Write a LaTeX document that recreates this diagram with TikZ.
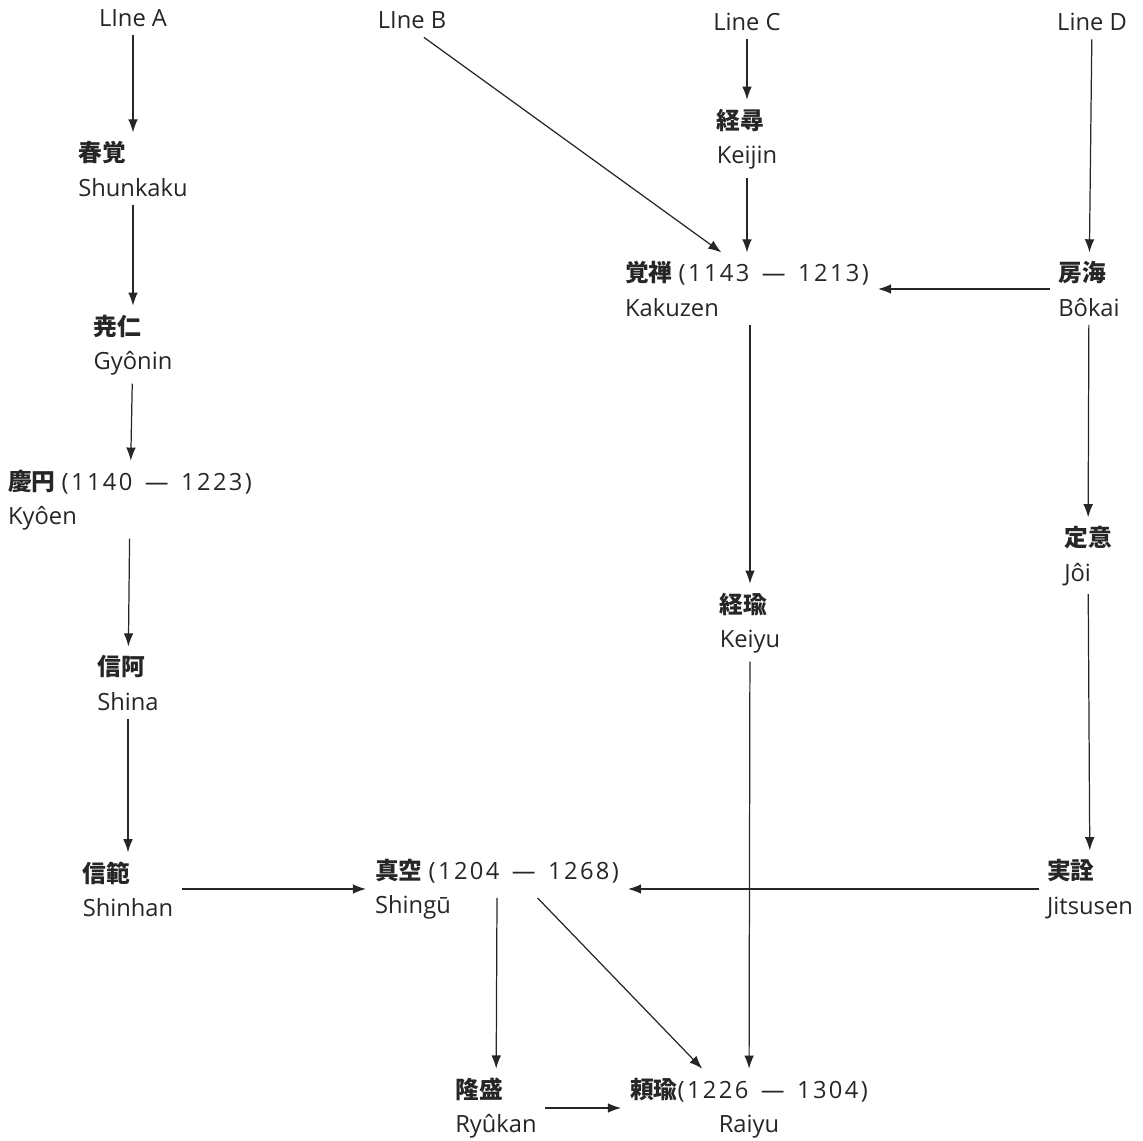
\documentclass[tikz,border=0pt]{standalone}
\usepackage{fontspec}
\setmainfont{Open Sans}
\newfontfamily\cjk{Noto Sans CJK JP}
\newfontfamily\yearfont[LetterSpace=10]{Open Sans}
\newcommand{\kj}[1]{{\cjk\bfseries #1}}
\newcommand{\years}[2]{{\yearfont(#1 \,—\, #2)}}
\usepackage{tikz}
\usetikzlibrary{arrows.meta,positioning}

\begin{document}
\begin{tikzpicture}[
      x=0.02cm, y=-0.02cm,
      line cap=rect, line join=round, >={Latex[length=7.5pt,width=5.5pt]},
      font=\fontsize{13.5}{19.5}\selectfont,
      monk/.style={align=left, inner sep=5pt, text=black!85},
      linelabel/.style={inner sep=5pt, text=black!85},
      lineage/.style={->, line width=0.7pt, draw=black!85}
    ]

    % ------------------ Page ------------------
    \useasboundingbox (0,0) rectangle (1143,1141);

    % ------------------ Line heads ------------------
    \node[linelabel] (lineA) at (133,18) {LIne A};
    \node[linelabel] (lineB) at (412,20) {LIne B};
    \node[linelabel] (lineC) at (747,22) {Line C};
    \node[linelabel] (lineD) at (1092,22) {Line D};

    % ------------------ Line A ------------------
    \node[monk] (shunkaku) at (133,169) {\kj{春覚}\\Shunkaku};
    \node[monk] (gyonin) at (133,345) {\kj{尭仁}\\Gyônin};
    \node[monk] (kyoen) at (130,500) {\kj{慶円} \years{1140}{1223}\\Kyôen};
    \node[monk] (shina) at (128,683) {\kj{信阿}\\Shina};
    \node[monk] (shinhan) at (128,889) {\kj{信範}\\Shinhan};

    % ------------------ Lines B, C ------------------
    \node[monk] (keijin) at (747,139) {\kj{経尋}\\Keijin};
    \node[monk] (kakuzen) at (747,289) {\kj{覚禅} \years{1143}{1213}\\Kakuzen};
    \node[monk] (keiyu) at (750,623) {\kj{経瑜}\\Keiyu};

    % ------------------ Line D ------------------
    \node[monk] (bokai) at (1089,289) {\kj{房海}\\Bôkai};
    \node[monk] (joi) at (1088,556) {\kj{定意}\\Jôi};
    \node[monk] (jitsusen) at (1090,889) {\kj{実詮}\\Jitsusen};

    % ------------------ Bottom ------------------
    \node[monk] (shingu) at (497,889) {\kj{真空} \years{1204}{1268}\\Shingū};
    \node[monk] (ryukan) at (496,1108) {\kj{隆盛}\\Ryûkan};
    \node[monk, align=center] (raiyu) at (749,1108) {\kj{頼瑜}\years{1226}{1304}\\Raiyu};

    % ------------------ Arrows ------------------
    \draw[lineage] (lineA) -- (shunkaku);
    \draw[lineage] (shunkaku) -- (gyonin);
    \draw[lineage] (gyonin) -- (kyoen);
    \draw[lineage] (kyoen) -- (shina);
    \draw[lineage] (shina) -- (shinhan);
    \draw[lineage] (shinhan) -- (shingu);

    \draw[lineage] (lineB.-55) -- (kakuzen.125);
    \draw[lineage] (lineC) -- (keijin);
    \draw[lineage] (keijin) -- (kakuzen);
    \draw[lineage] (kakuzen.south -| keiyu.north) -- (keiyu.north);
    \draw[lineage] (keiyu) -- (raiyu);

    \draw[lineage] (lineD) -- (bokai);
    \draw[lineage] (bokai) -- (kakuzen);
    \draw[lineage] (bokai) -- (joi);
    \draw[lineage] (joi) -- (jitsusen);
    \draw[lineage] (jitsusen) -- (shingu);

    % from just under the first line of Shingu
    \draw[lineage] ([xshift=0.82cm, yshift=17pt]shingu.south) -- (raiyu.140);
    \draw[lineage] ([yshift=17pt]shingu.south) -- (ryukan);
    \draw[lineage] (ryukan) -- (raiyu);

  \end{tikzpicture}
\end{document}
